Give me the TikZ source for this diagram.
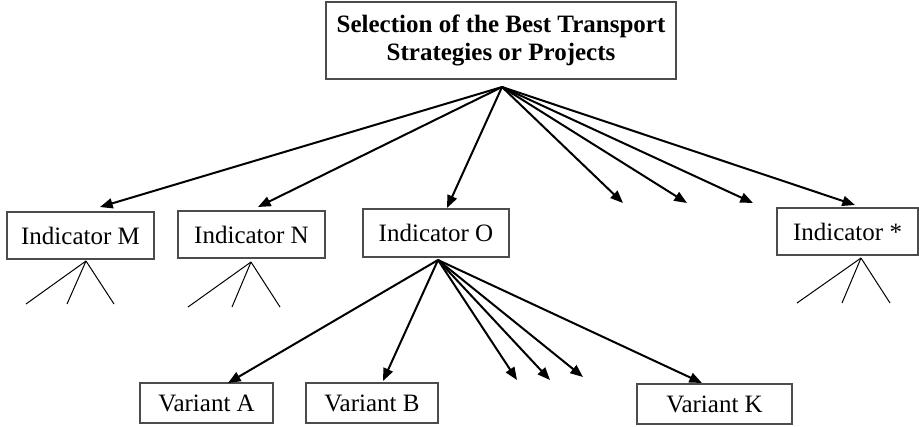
\documentclass[tikz,border=0pt]{standalone}
\usepackage{fontspec}
\setmainfont{Liberation Serif}
\usetikzlibrary{arrows.meta}
\tikzset{
  box/.style={draw=black!70, line width=0.9pt, inner sep=0pt, align=center,
    font=\fontsize{18.75}{20.5}\selectfont},
  bigarrow/.style={line width=1.5pt, -{Triangle[length=9.5pt,width=7.5pt]}},
  twig/.style={line width=0.75pt}
}
\begin{document}
\begin{tikzpicture}[x=0.75pt,y=-0.75pt]
\useasboundingbox (0,0) rectangle (919,426);
% boxes
\node[box, minimum width=262.5pt, minimum height=57.75pt, font=\fontsize{18.75}{21.5}\selectfont\bfseries] (top) at (501,40.5)
  {Selection of the Best Transport\\Strategies or Projects};
\node[box, minimum width=110.25pt, minimum height=35.25pt] (M) at (80.5,235.5) {Indicator M};
\node[box, minimum width=110.25pt, minimum height=35.25pt] (N) at (251.5,234.5) {Indicator N};
\node[box, minimum width=109.5pt, minimum height=36pt] (O) at (436,233) {Indicator O};
\node[box, minimum width=105.75pt, minimum height=35.25pt] (S) at (847.5,231.5) {Indicator *};
\node[box, minimum width=99.75pt, minimum height=30pt] (A) at (206.5,403) {Variant A};
\node[box, minimum width=99pt, minimum height=30pt] (B) at (372,403) {Variant B};
\node[box, minimum width=116.25pt, minimum height=30pt] (K) at (714.5,404) {Variant K};
% connector points
\coordinate (tsrc) at (502,87);
\coordinate (tM) at (100,207);
\coordinate (tN) at (258,207);
\coordinate (tO) at (447,208);
\coordinate (d1) at (623,203);
\coordinate (d2) at (687,203);
\coordinate (d3) at (753,203);
\coordinate (tS) at (855,205);
\coordinate (osrc) at (438,260);
\coordinate (tA) at (228,383);
\coordinate (tB) at (383,381);
\coordinate (e1) at (517,380);
\coordinate (e2) at (550,380);
\coordinate (e3) at (583,377);
\coordinate (tK) at (702,383);
% top arrows
\foreach \t in {tM,tN,tO,d1,d2,d3,tS} \draw[bigarrow] (tsrc) -- (\t);
% O arrows
\foreach \t in {tA,tB,e1,e2,e3,tK} \draw[bigarrow] (osrc) -- (\t);
% twigs
\coordinate (mA) at (86,261);
\coordinate (m1) at (26,304); \coordinate (m2) at (67,304); \coordinate (m3) at (114,304);
\coordinate (nA) at (251,262);
\coordinate (n1) at (188,307); \coordinate (n2) at (232,307); \coordinate (n3) at (280,307);
\coordinate (sA) at (861,258);
\coordinate (s1) at (797,303); \coordinate (s2) at (842,303); \coordinate (s3) at (890,303);
\foreach \a/\b in {mA/m1,mA/m2,mA/m3,nA/n1,nA/n2,nA/n3,sA/s1,sA/s2,sA/s3} \draw[twig] (\a) -- (\b);
\end{tikzpicture}
\end{document}
